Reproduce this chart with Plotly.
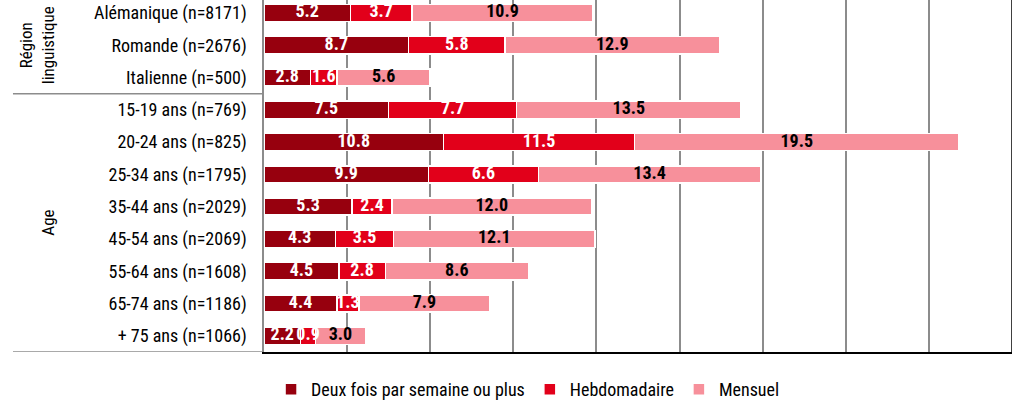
"""
Fréquence par région linguistique et par âge - barres empilées horizontales.
"""
import plotly.graph_objects as go

categories = [
    "Alémanique (n=8171)",
    "Romande (n=2676)",
    "Italienne (n=500)",
    "15-19 ans (n=769)",
    "20-24 ans (n=825)",
    "25-34 ans (n=1795)",
    "35-44 ans (n=2029)",
    "45-54 ans (n=2069)",
    "55-64 ans (n=1608)",
    "65-74 ans (n=1186)",
    "+ 75 ans (n=1066)",
]
deux_fois = [5.2, 8.7, 2.8, 7.5, 10.8, 9.9, 5.3, 4.3, 4.5, 4.4, 2.2]
hebdo = [3.7, 5.8, 1.6, 7.7, 11.5, 6.6, 2.4, 3.5, 2.8, 1.3, 0.9]
mensuel = [10.9, 12.9, 5.6, 13.5, 19.5, 13.4, 12.0, 12.1, 8.6, 7.9, 3.0]

series = [
    ("Deux fois par semaine ou plus", deux_fois, "#97000E", "white"),
    ("Hebdomadaire", hebdo, "#E2001A", "white"),
    ("Mensuel", mensuel, "#F7909B", "black"),
]

FONT = "Liberation Sans Narrow, Arial Narrow, Roboto Condensed, Arial, sans-serif"
rows = list(range(len(categories)))

fig = go.Figure()
for name, values, color, _ in series:
    fig.add_trace(go.Bar(
        name=name,
        y=rows,
        x=values,
        orientation="h",
        width=0.53,
        marker=dict(color=color, line=dict(color="white", width=1.5)),
        hoverinfo="skip",
    ))

# value labels drawn on top of all bars so narrow segments stay readable
left = [0.0] * len(rows)
for name, values, color, text_color in series:
    mids = [l + v / 2 for l, v in zip(left, values)]
    fig.add_trace(go.Scatter(
        x=mids,
        y=rows,
        mode="text",
        text=[f"{v:.1f}" for v in values],
        textposition="middle center",
        textfont=dict(family=FONT, size=18, color=text_color, weight="bold"),
        showlegend=False,
        hoverinfo="skip",
        cliponaxis=False,
    ))
    left = [l + v for l, v in zip(left, values)]

# group labels and separators on the left
fig.add_annotation(text="Région<br>linguistique", x=-0.3035, y=1, xref="paper", yref="y",
                   xanchor="center", yanchor="middle",
                   textangle=-90, showarrow=False, font=dict(family=FONT, size=17, color="black"))
fig.add_annotation(text="Age", x=-0.289, y=6.5, xref="paper", yref="y",
                   xanchor="center", yanchor="middle",
                   textangle=-90, showarrow=False, font=dict(family=FONT, size=17, color="black"))
for yv in [2.5, 10.5]:
    fig.add_shape(type="line", xref="paper", yref="y", x0=-0.3356, x1=0, y0=yv, y1=yv,
                  line=dict(color="#8c8c8c", width=1.5))
# right border
fig.add_shape(type="line", xref="x", yref="paper", x0=45, x1=45, y0=0, y1=1,
              line=dict(color="black", width=1.5))

fig.update_layout(
    barmode="stack",
    width=1036,
    height=408,
    margin=dict(l=264, r=24, t=0, b=56),
    plot_bgcolor="white",
    paper_bgcolor="white",
    font=dict(family=FONT, size=18, color="black"),
    legend=dict(
        orientation="h",
        x=0.353, xanchor="center",
        y=-0.108, yanchor="middle",
        font=dict(family=FONT, size=18),
        traceorder="normal",
    ),
    xaxis=dict(
        range=[0, 45],
        dtick=5,
        showgrid=True,
        gridcolor="#8c8c8c",
        gridwidth=1.5,
        zeroline=False,
        showticklabels=False,
        showline=True,
        linecolor="black",
        linewidth=1.5,
        automargin=False,
    ),
    yaxis=dict(
        range=[10.5, -0.4],
        tickmode="array",
        tickvals=rows,
        ticktext=categories,
        showgrid=False,
        zeroline=False,
        showline=True,
        linecolor="#8c8c8c",
        linewidth=1.5,
        ticks="",
        ticklabelstandoff=12,
        automargin=False,
    ),
)

# page body has a default 8px margin; drop it so the figure sits at the corner
fig.write_html("out.html", config={"displayModeBar": False},
               post_script="document.body.style.margin='0px';")
